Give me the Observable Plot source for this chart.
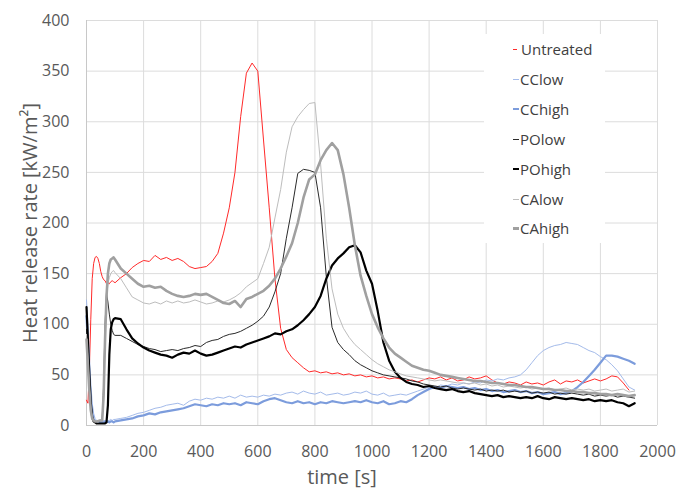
<!DOCTYPE html>
<html>
<head>
<meta charset="utf-8">
<script src="https://cdn.jsdelivr.net/npm/d3@7"></script>
<script src="https://cdn.jsdelivr.net/npm/@observablehq/plot@0.6"></script>
<style>
  html, body { margin: 0; padding: 0; background: white; }
  #wrap { position: relative; width: 690px; height: 497px; font-family: 'Open Sans', sans-serif; }
  #legend { position: absolute; left: 484px; top: 34px; width: 121px; height: 209px; background: white; }
  .row { position: absolute; left: 0; height: 20px; line-height: 20px; font-size: 15px; color: #404040; white-space: nowrap; }
  .mk { position: absolute; top: 50%; }
</style>
</head>
<body>
<div id="wrap"></div>
<script>
// ---- data ----
const seriesNames = ["Untreated", "CClow", "CChigh", "POlow", "POhigh", "CAlow", "CAhigh"];
const xTicks = [0, 200, 400, 600, 800, 1000, 1200, 1400, 1600, 1800, 2000];
const yTicks = [0, 50, 100, 150, 200, 250, 300, 350, 400];

const time = [0,5,10,15,20,25,30,35,40,45,50,55,60,65,70,75,80,85,90,95,100,
  120,140,160,180,200,220,240,260,280,300,
  320,340,360,380,400,420,440,460,480,500,
  520,540,560,580,600,620,640,660,680,700,
  720,740,760,780,800,820,840,860,880,900,
  920,940,960,980,1000,1020,1040,1060,1080,1100,
  1120,1140,1160,1180,1200,1220,1240,1260,1280,1300,
  1320,1340,1360,1380,1400,1420,1440,1460,1480,1500,
  1520,1540,1560,1580,1600,1620,1640,1660,1680,1700,
  1720,1740,1760,1780,1800,1820,1840,1860,1880,1900,1920];

const untreated = [25,22,55,105,145,160,166,167,165,160,152,147,144,143,140,141,140,142,143,142,141,
  146,150,156,160,163,162,168,164,166,163,
  165,162,157,155,156,157,162,170,190,215,
  250,305,348,358,350,282,215,145,96,75,
  67,62,57,53,54,52,53,51,52,50,
  51,49,50,48,49,47,48,46,47,46,
  44,45,43,45,47,46,48,45,47,44,
  45,48,46,47,49,45,42,41,43,42,
  40,43,41,42,40,43,45,41,44,43,
  45,42,44,46,44,46,49,48,42,35,null];

const ccLow = [124,100,70,42,22,12,7,5,4,4,5,4,5,4,5,4,5,6,5,6,6,
  7,8,10,12,13,15,17,18,20,21,
  22,20,24,26,25,27,26,28,27,29,
  27,30,28,29,28,30,29,31,30,32,
  33,31,34,32,31,33,30,31,32,30,
  31,33,32,34,31,30,32,29,30,31,
  30,32,34,36,38,37,40,39,41,40,
  42,41,43,42,45,44,46,45,47,48,
  50,55,62,69,74,77,79,80,82,81,
  80,77,74,72,68,65,60,54,46,38,35];

const ccHigh = [108,80,50,25,12,6,4,3,3,3,4,3,3,4,3,4,3,4,4,3,4,
  5,6,7,9,10,12,11,13,14,15,
  16,17,19,21,20,19,21,20,22,21,
  22,20,23,22,21,24,26,27,25,23,
  22,24,22,23,21,23,22,24,23,22,
  23,24,23,25,23,22,24,21,22,24,
  23,26,30,33,36,38,37,39,38,37,
  38,36,37,35,36,34,35,33,34,35,
  33,34,32,33,31,32,33,31,32,34,
  38,43,49,55,62,69,69,68,66,64,61];

const poLow = [95,70,42,20,9,5,4,4,5,4,5,6,40,100,131,122,110,100,94,90,89,
  89,86,83,80,78,76,75,73,74,75,
  74,76,77,79,78,82,84,85,88,90,
  91,93,96,99,103,108,117,132,150,185,
  215,249,253,252,250,215,147,97,82,75,
  70,64,60,57,54,52,50,49,48,47,
  46,44,43,41,40,39,38,39,37,36,
  37,36,35,36,34,35,34,35,33,34,
  33,34,32,33,32,33,31,32,31,32,
  31,30,31,29,30,29,30,28,29,28,27];

const poHigh = [117,85,50,22,8,4,3,2,2,2,2,2,2,2,3,20,70,95,102,105,106,
  105,95,86,81,77,74,72,70,69,67,
  70,72,71,74,71,69,70,72,74,76,
  78,77,80,82,84,86,88,91,90,93,
  95,99,104,110,117,128,145,158,165,170,
  176,178,171,153,140,113,82,64,53,47,
  43,41,40,38,39,37,36,35,36,34,
  33,34,32,31,30,29,30,28,29,28,
  27,28,27,29,27,26,28,27,26,27,
  26,25,26,24,25,24,25,23,22,19,22];

const caLow = [90,65,38,18,8,5,4,4,5,5,6,6,35,90,125,140,146,150,152,153,151,
  145,136,127,124,121,120,122,120,123,121,
  123,121,122,124,122,120,121,123,122,124,
  127,131,137,141,145,160,176,205,233,270,
  295,305,312,318,319,258,185,135,110,96,
  87,80,75,70,65,61,58,55,53,51,
  49,48,47,46,45,44,45,44,43,42,
  42,41,42,40,41,39,40,38,39,38,
  37,38,36,37,36,37,35,36,37,35,
  36,35,36,34,35,36,34,35,36,33,34];

const caHigh = [85,60,34,15,7,5,4,4,4,5,5,5,30,85,127,150,160,164,165,166,164,
  155,150,145,140,137,138,136,137,133,130,
  128,127,128,130,129,130,127,124,121,120,
  123,117,125,127,130,133,138,145,155,167,
  180,200,225,243,248,262,272,279,272,248,
  215,178,148,128,110,97,86,77,71,67,
  63,59,57,55,54,52,50,49,48,47,
  46,45,44,44,43,42,42,41,40,40,
  39,38,38,37,36,36,35,35,34,34,
  33,33,32,32,31,31,30,31,30,29,30];

const seriesValues = [untreated, ccLow, ccHigh, poLow, poHigh, caLow, caHigh];
const seriesColors = ["#ff2a2a", "#a4bbea", "#7c9cdc", "#2a2a2a", "#000000", "#bdbdbd", "#a0a0a0"];
const seriesWidths = [1, 1, 2.2, 1, 2.2, 1, 2.6];

const yTitle = "Heat release rate [kW/m²]";
const xTitle = "time [s]";

// ---- chart ----
const lineMarks = seriesNames.map((name, k) =>
  Plot.line(time.map((t, i) => ({t, v: seriesValues[k][i]})), {
    x: "t", y: "v", stroke: seriesColors[k], strokeWidth: seriesWidths[k],
    strokeLinejoin: "round", strokeLinecap: "round"
  })
);

const chart = Plot.plot({
  width: 690, height: 497,
  marginLeft: 86, marginRight: 33, marginTop: 20, marginBottom: 72,
  style: {fontFamily: "'Open Sans', sans-serif", background: "white"},
  x: {domain: [0, 2000]},
  y: {domain: [0, 400]},
  marks: [
    Plot.gridX(xTicks, {stroke: "#dcdcdc", strokeOpacity: 1}),
    Plot.gridY(yTicks, {stroke: "#dcdcdc", strokeOpacity: 1}),
    Plot.ruleX([0], {stroke: "#c8c8c8"}),
    Plot.ruleY([0], {stroke: "#c8c8c8"}),
    Plot.axisX(xTicks, {tickSize: 0, tickPadding: 20, fontSize: 16, fill: "#595959", label: null, tickFormat: d => String(d)}),
    Plot.axisY(yTicks, {tickSize: 0, tickPadding: 17, fontSize: 16, fill: "#595959", label: null, tickFormat: d => String(d)}),
    ...lineMarks,
    Plot.text([yTitle], {text: d => d, frameAnchor: "left", textAnchor: "middle", dx: -56, rotate: -90, fontSize: 20, fill: "#595959"}),
    Plot.text([xTitle], {text: d => d, frameAnchor: "bottom", textAnchor: "middle", dx: -30, dy: 58, fontSize: 20, fill: "#595959"})
  ]
});

const wrap = document.getElementById("wrap");
wrap.appendChild(chart);

// legend (overlay inside plot area)
const legend = document.createElement("div");
legend.id = "legend";
const centers = [49, 79, 109, 139, 169, 199, 228];
seriesNames.forEach((name, k) => {
  const row = document.createElement("div");
  row.className = "row";
  row.style.top = (centers[k] - 34 - 10) + "px";
  const mk = document.createElement("span");
  mk.className = "mk";
  const w = k === 0 ? 4 : 6;
  mk.style.left = (29) + "px";
  mk.style.width = w + "px";
  mk.style.height = Math.max(1, Math.round(seriesWidths[k])) + "px";
  mk.style.marginTop = (-Math.max(1, Math.round(seriesWidths[k])) / 2) + "px";
  mk.style.background = seriesColors[k];
  row.appendChild(mk);
  const tx = document.createElement("span");
  tx.textContent = name;
  tx.style.position = "absolute";
  tx.style.left = (k === 0 ? 37 : 36) + "px";
  row.appendChild(tx);
  legend.appendChild(row);
});
wrap.appendChild(legend);
</script>
</body>
</html>
